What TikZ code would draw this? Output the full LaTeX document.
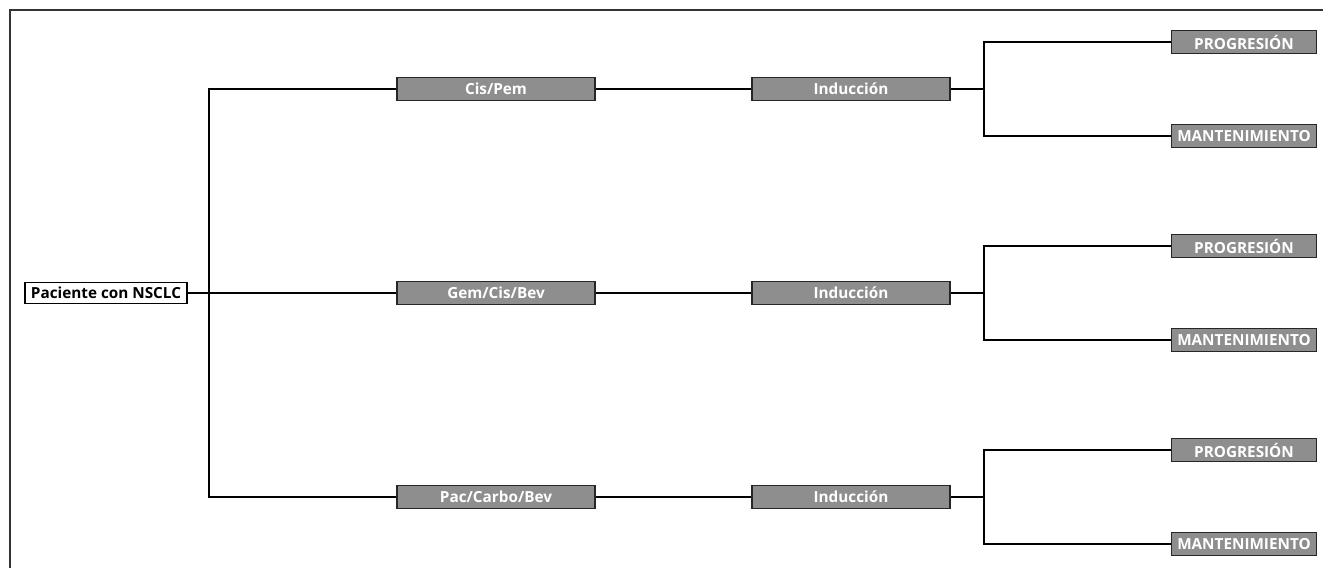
\documentclass[tikz,border=0pt]{standalone}
\usepackage{fontspec}
\setmainfont{Open Sans}
\usetikzlibrary{positioning}

\definecolor{boxgray}{HTML}{8E8E8E}

\begin{document}
\begin{tikzpicture}[x=0.02cm,y=-0.02cm,semithick,
                    font=\fontsize{8.7pt}{10pt}\selectfont\bfseries,
                    start/.style={draw,fill=white,inner sep=0pt,minimum width=3.24cm,minimum height=0.42cm},
                    grey/.style={draw=black!85,fill=boxgray,text=white,inner sep=0pt,minimum height=0.46cm},
                    wide/.style={grey,minimum width=3.96cm},
                    small/.style={grey,minimum width=2.9cm}]

  \useasboundingbox (0,0) rectangle (1323,568);
  \draw [line width=1.4pt, black!80] (10,580) -- (10,10) -- (1340,10);

  \node [start] (p) at (106,293) {Paciente con NSCLC};

  \node [wide] (t1) at (496,89) {Cis/Pem};
  \node [wide] (t2) at (496,293) {Gem/Cis/Bev};
  \node [wide] (t3) at (496,497) {Pac/Carbo/Bev};

  \node [wide] (i1) at (851,89) {Inducción};
  \node [wide] (i2) at (851,293) {Inducción};
  \node [wide] (i3) at (851,497) {Inducción};

  \node [small] (prog1) at (1244,42) {PROGRESIÓN};
  \node [small] (mant1) at (1244,136) {MANTENIMIENTO};
  \node [small] (prog2) at (1244,246) {PROGRESIÓN};
  \node [small] (mant2) at (1244,340) {MANTENIMIENTO};
  \node [small] (prog3) at (1244,450) {PROGRESIÓN};
  \node [small] (mant3) at (1244,544) {MANTENIMIENTO};

  \coordinate (split) at (209,293);
  \coordinate (j1) at (984,89);
  \coordinate (j2) at (984,293);
  \coordinate (j3) at (984,497);

  \path (p) edge (t2);
  \draw (t1.west) -| (split);
  \draw (t3.west) -| (split);

  \path (t1) edge (i1);
  \path (t2) edge (i2);
  \path (t3) edge (i3);

  \path (i1) edge (j1);
  \draw (prog1.west) -| (j1) |- (mant1.west);
  \path (i2) edge (j2);
  \draw (prog2.west) -| (j2) |- (mant2.west);
  \path (i3) edge (j3);
  \draw (prog3.west) -| (j3) |- (mant3.west);
\end{tikzpicture}
\end{document}
